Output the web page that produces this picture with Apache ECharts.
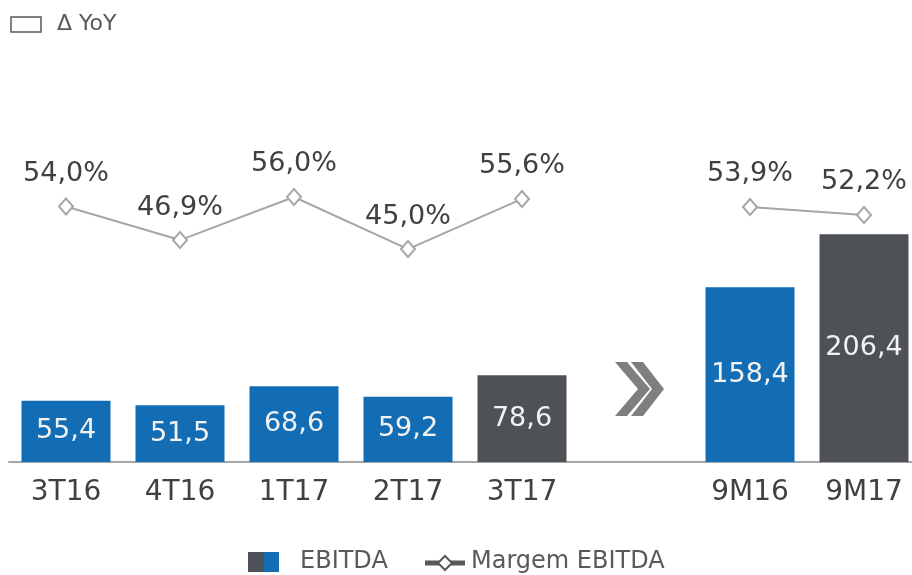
<!DOCTYPE html>
<html><head><meta charset="utf-8">
<script src="https://cdn.jsdelivr.net/npm/echarts@6/dist/echarts.min.js"></script>
<style>html,body{margin:0;padding:0;background:#fff;overflow:hidden}#c{width:921px;height:575px}</style>
</head><body><div id="c"></div>
<script>
const categories = ['3T16','4T16','1T17','2T17','3T17','','9M16','9M17'];
const ebitda = [55.4, 51.5, 68.6, 59.2, 78.6, null, 158.4, 206.4];
const margem = [54.0, 46.9, 56.0, 45.0, 55.6, null, 53.9, 52.2];
const highlight = [false, false, false, false, true, false, false, true];
const legendNames = ['EBITDA', 'Margem EBITDA'];
const BLUE = '#126db5', DARK = '#4e5257', GRAY = '#a6a6a6', TXT = '#404040', LEG = '#595959';
const FONT = 'DejaVu Sans';
const fmt = (v, d) => v.toFixed(d).replace('.', ',');
const chart = echarts.init(document.getElementById('c'));
chart.setOption({
  animation: false,
  textStyle: { fontFamily: FONT },
  grid: { left: 9, right: 0, top: 100, bottom: 113, containLabel: false },
  xAxis: {
    type: 'category', data: categories,
    axisLine: { lineStyle: { color: GRAY, width: 2 } },
    axisTick: { show: false },
    axisLabel: { color: TXT, fontSize: 28, margin: 17, fontFamily: FONT }
  },
  yAxis: [
    { type: 'value', min: 0, max: 328, show: false },
    { type: 'value', min: 0, max: 76.5, show: false }
  ],
  series: [
    {
      name: legendNames[0], type: 'bar', barWidth: 89,
      data: ebitda.map((v, i) => ({ value: v, itemStyle: { color: highlight[i] ? DARK : BLUE } })),
      itemStyle: { color: BLUE },
      label: { show: true, position: 'inside', color: '#f2f2f2', fontSize: 27, fontFamily: FONT,
        formatter: p => p.value == null ? '' : fmt(p.value, 1) }
    },
    {
      name: legendNames[1], type: 'line', yAxisIndex: 1, connectNulls: false,
      data: margem,
      symbol: 'emptyDiamond', symbolSize: [14, 16],
      lineStyle: { color: GRAY, width: 2 },
      itemStyle: { color: GRAY, borderWidth: 1.5 },
      label: { show: true, position: 'top', distance: 10, color: TXT, fontSize: 27, fontFamily: FONT,
        formatter: p => p.value == null ? '' : fmt(p.value, 1) + '%' }
    }
  ],
  graphic: [
    { type: 'rect', shape: { x: 11, y: 17, width: 30, height: 15 }, style: { fill: '#fff', stroke: '#595959', lineWidth: 1.5 } },
    { type: 'text', left: 57, top: 13, style: { text: 'Δ YoY', fontSize: 22, fill: LEG, fontFamily: FONT } },
    { type: 'polygon', shape: { points: [[615,362],[627,362],[650,389],[627,416],[615,416],[638,389]] }, style: { fill: '#7f7f7f' } },
    { type: 'polygon', shape: { points: [[631,362],[643,362],[664,389],[643,416],[631,416],[652,389]] }, style: { fill: '#7f7f7f' } },
    // legend
    { type: 'rect', shape: { x: 248, y: 552, width: 16, height: 20 }, style: { fill: DARK } },
    { type: 'rect', shape: { x: 264, y: 552, width: 15, height: 20 }, style: { fill: BLUE } },
    { type: 'text', x: 300, y: 562, style: { text: legendNames[0], fontSize: 24, fill: LEG, fontFamily: FONT, verticalAlign: 'middle' } },
    { type: 'line', shape: { x1: 425, y1: 563, x2: 465, y2: 563 }, style: { stroke: LEG, lineWidth: 5 } },
    { type: 'polygon', shape: { points: [[445,556],[452,563],[445,570],[438,563]] }, style: { fill: '#fff', stroke: LEG, lineWidth: 2 } },
    { type: 'text', x: 471, y: 562, style: { text: legendNames[1], fontSize: 24, fill: LEG, fontFamily: FONT, verticalAlign: 'middle' } }
  ]
});
</script></body></html>
